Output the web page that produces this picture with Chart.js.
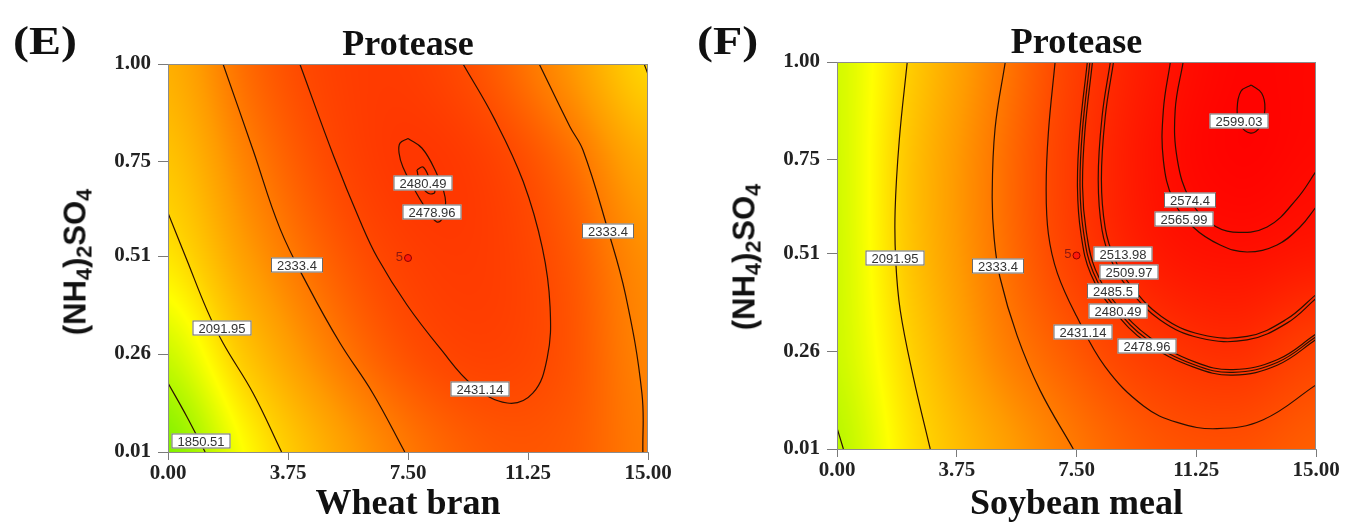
<!DOCTYPE html>
<html>
<head>
<meta charset="utf-8">
<script src="https://cdn.jsdelivr.net/npm/chart.js@4.4.1/dist/chart.umd.min.js"></script>
<style>
    body { margin: 0; background: #fff; width: 1346px; height: 523px; overflow: hidden; position: relative; }
    canvas { position: absolute; top: 0; }
    .tag { position: absolute; font: bold 40px "Liberation Serif", serif; color: #111; line-height: 1;
           transform: scaleX(1.2); transform-origin: left top; }
    .ytitle { position: absolute; font: bold 31px "Liberation Sans", Arial, sans-serif; color: #111; white-space: nowrap;
              line-height: 1; transform: translate(-50%, -50%) rotate(-90deg); }
    .ytitle sub { font-size: 70%; vertical-align: -0.28em; line-height: 0; }
</style>
</head>
<body>
<canvas id="chartE" width="700" height="523" style="left:0"></canvas>
<canvas id="chartF" width="673" height="523" style="left:673px"></canvas>
<div class="tag" style="left:13px;top:21px">(E)</div>
<div class="tag" style="left:697px;top:21px">(F)</div>
<div class="ytitle" style="left:75px;top:262px">(NH<sub>4</sub>)<sub>2</sub>SO<sub>4</sub></div>
<div class="ytitle" style="left:744px;top:257px">(NH<sub>4</sub>)<sub>2</sub>SO<sub>4</sub></div>
<script>
// axes
const xTicks = [0, 3.75, 7.5, 11.25, 15];
const yTicks = [0.01, 0.26, 0.51, 0.75, 1.00];

// response surface (rows = gridY, cols = gridX)
const gridX = [0, 2.5, 5, 7.5, 10, 12.5, 15];
const gridY = [0.01, 0.26, 0.51, 0.75, 1.00];
const eSurface = [
    [1719, 1993, 2198, 2334, 2401, 2398, 2326],
    [1879, 2131, 2311, 2418, 2453, 2415, 2305],
    [2042, 2247, 2386, 2459, 2466, 2406, 2280],
    [2127, 2315, 2432, 2480, 2457, 2365, 2203],
    [2190, 2366, 2453, 2466, 2403, 2266, 2075]
];
const fSurface = [
    [1840, 2060, 2220, 2337, 2405, 2420, 2390],
    [1880, 2105, 2300, 2405, 2475, 2500, 2455],
    [1885, 2145, 2335, 2465, 2545, 2565, 2550],
    [1888, 2150, 2340, 2477, 2562, 2593, 2580],
    [1892, 2120, 2318, 2465, 2550, 2590, 2585]
];

// colour scale (value -> rgb)
const colourValues = [1700, 1850, 1980, 2100, 2250, 2340, 2430, 2480, 2600];
const colourStops = [[120, 240, 0], [190, 248, 0], [255, 255, 0], [255, 205, 0], [255, 155, 0],
                     [255, 118, 0], [255, 75, 0], [255, 55, 0], [255, 0, 0]];

// (E) wheat bran contours
const eC1850 = [[0, 0.186], [0.59, 0.10], [1.16, 0.01]];
const eC2092 = [[0, 0.62], [0.59, 0.50], [1.22, 0.372], [1.72, 0.288], [2.66, 0.16], [3.55, 0.01]];
const eC2333a = [[1.72, 1.0], [2.66, 0.78], [3.5, 0.58], [4.4, 0.43], [5.375, 0.288], [6.4, 0.16], [7.4, 0.01]];
const eC2431 = [[4.12, 1.0], [5.2, 0.76], [6.0, 0.6], [6.55, 0.505], [7.47, 0.385], [8.5, 0.275], [9.53, 0.18], [10.6, 0.135],
                [11.4, 0.16], [11.85, 0.25], [11.94, 0.38], [11.7, 0.53], [11.1, 0.70], [10.2, 0.86], [9.22, 1.0]];
const eC2479 = [[7.5, 0.81], [7.94, 0.785], [8.34, 0.73], [8.66, 0.66], [8.6, 0.61], [8.4, 0.597], [8.03, 0.635], [7.66, 0.686],
                [7.34, 0.737], [7.22, 0.773], [7.25, 0.798], [7.5, 0.81]];
const eC2480 = [[7.78, 0.73], [7.97, 0.737], [8.19, 0.704], [8.34, 0.673], [8.13, 0.67], [7.88, 0.696], [7.78, 0.73]];
const eC2333b = [[11.6, 1.0], [12.56, 0.84], [12.97, 0.78], [13.72, 0.584], [14.3, 0.41], [14.81, 0.16], [14.84, 0.01]];
const eC2092b = [[14.88, 1.0], [15, 0.974]];

const eLabelText = ['1850.51', '2091.95', '2333.4', '2480.49', '2478.96', '2431.14', '2333.4'];
const eLabelX = [1.03, 1.69, 4.03, 7.97, 8.25, 9.75, 13.75];
const eLabelY = [0.038, 0.326, 0.487, 0.696, 0.622, 0.171, 0.574];

// (F) soybean meal contours
const fC1850 = [[0, 0.064], [0.2, 0.01]];
const fC2092 = [[2.2, 1.0], [1.95, 0.80], [1.82, 0.62], [1.84, 0.49], [1.98, 0.365], [2.39, 0.194], [2.92, 0.01]];
const fC2333 = [[5.27, 1.0], [4.95, 0.83], [4.86, 0.66], [4.92, 0.55], [5.1, 0.45], [5.64, 0.30], [6.36, 0.16], [7.4, 0.01]];
const fC2431 = [[6.83, 1.0], [6.62, 0.82], [6.55, 0.68], [6.62, 0.56], [6.9, 0.46], [7.5, 0.35], [8.4, 0.22], [9.6, 0.12],
                [10.65, 0.078], [11.9, 0.062], [13.35, 0.085], [15, 0.174]];
const fC2479 = [[7.84, 1.0], [7.6, 0.82], [7.53, 0.68], [7.64, 0.56], [7.95, 0.457], [8.65, 0.366], [9.71, 0.281], [11.15, 0.22],
                [12.4, 0.199], [13.8, 0.225], [15, 0.29]];
const fC2480 = [[7.92, 1.0], [7.68, 0.82], [7.61, 0.68], [7.72, 0.565], [8.02, 0.463], [8.71, 0.372], [9.75, 0.288], [11.17, 0.226],
                [12.4, 0.206], [13.8, 0.232], [15, 0.297]];
const fC2486 = [[8.0, 1.0], [7.76, 0.82], [7.69, 0.68], [7.8, 0.57], [8.09, 0.469], [8.77, 0.378], [9.8, 0.295], [11.2, 0.233],
                [12.4, 0.213], [13.8, 0.239], [15, 0.304]];
const fC2510 = [[8.56, 1.0], [8.3, 0.86], [8.18, 0.70], [8.3, 0.57], [8.6, 0.49], [9.09, 0.424], [10.12, 0.34], [11.37, 0.294],
                [12.84, 0.289], [14.09, 0.332], [15, 0.395]];
const fC2514 = [[8.66, 1.0], [8.4, 0.86], [8.28, 0.70], [8.4, 0.575], [8.69, 0.497], [9.16, 0.432], [10.16, 0.349], [11.4, 0.303],
                [12.84, 0.298], [14.06, 0.341], [15, 0.405]];
const fC2566 = [[10.44, 1.0], [10.22, 0.877], [10.22, 0.749], [10.53, 0.647], [11.15, 0.578], [12.0, 0.532], [12.84, 0.514],
                [13.78, 0.532], [14.5, 0.578], [15, 0.629]];
const fC2574 = [[10.84, 1.0], [10.59, 0.877], [10.66, 0.749], [11.06, 0.647], [11.69, 0.588], [12.4, 0.565], [13.47, 0.578],
                [14.4, 0.65], [15, 0.72]];
const fC2599 = [[12.97, 0.941], [13.3, 0.92], [13.4, 0.88], [13.25, 0.835], [12.95, 0.818], [12.62, 0.84], [12.53, 0.88],
                [12.65, 0.925], [12.97, 0.941]];

const fLabelText = ['2091.95', '2333.4', '2599.03', '2574.4', '2565.99', '2513.98', '2509.97', '2485.5', '2480.49', '2431.14', '2478.96'];
const fLabelX = [1.82, 5.05, 12.59, 11.06, 10.87, 8.96, 9.15, 8.63, 8.79, 7.69, 9.71];
const fLabelY = [0.498, 0.477, 0.849, 0.647, 0.598, 0.509, 0.463, 0.413, 0.362, 0.31, 0.273];

// design centre point
const centreX = 7.5;
const centreY = 0.505;
const centreRuns = '5';

function findCell(arr, v) {
    let i = 0;
    while (i < arr.length - 2 && v > arr[i + 1]) i++;
    return [i, (v - arr[i]) / (arr[i + 1] - arr[i])];
}

function catmull(p0, p1, p2, p3, t) {
    return p1 + 0.5 * t * (p2 - p0 + t * (2 * p0 - 5 * p1 + 4 * p2 - p3 + t * (3 * (p1 - p2) + p3 - p0)));
}

function sampleSurface(grid, xv, yv) {
    let [i, tx] = findCell(gridX, xv);
    let [j, ty] = findCell(gridY, yv);
    let clampX = k => Math.min(Math.max(k, 0), gridX.length - 1);
    let clampY = k => Math.min(Math.max(k, 0), gridY.length - 1);
    let row = r => {
        let g = grid[clampY(r)];
        return catmull(g[clampX(i - 1)], g[clampX(i)], g[clampX(i + 1)], g[clampX(i + 2)], tx);
    };
    return catmull(row(j - 1), row(j), row(j + 1), row(j + 2), ty);
}

function colourFor(v) {
    if (v <= colourValues[0]) return colourStops[0];
    let n = colourValues.length;
    if (v >= colourValues[n - 1]) return colourStops[n - 1];
    let k = 0;
    while (v > colourValues[k + 1]) k++;
    let t = (v - colourValues[k]) / (colourValues[k + 1] - colourValues[k]);
    let a = colourStops[k], b = colourStops[k + 1];
    return [a[0] + (b[0] - a[0]) * t, a[1] + (b[1] - a[1]) * t, a[2] + (b[2] - a[2]) * t];
}

function surfacePlugin(grid, labelText, labelX, labelY) {
    return {
        id: 'surface',
        beforeDatasetsDraw(chart) {
            let { ctx, chartArea: a, scales: { x, y } } = chart;
            let w = Math.round(a.right - a.left), h = Math.round(a.bottom - a.top);
            let off = document.createElement('canvas');
            off.width = w;
            off.height = h;
            let octx = off.getContext('2d');
            let img = octx.createImageData(w, h);
            for (let j = 0; j < h; j++) {
                let yv = y.getValueForPixel(a.top + j + 0.5);
                for (let i = 0; i < w; i++) {
                    let xv = x.getValueForPixel(a.left + i + 0.5);
                    let c = colourFor(sampleSurface(grid, xv, yv));
                    let k = (j * w + i) * 4;
                    img.data[k] = c[0];
                    img.data[k + 1] = c[1];
                    img.data[k + 2] = c[2];
                    img.data[k + 3] = 255;
                }
            }
            octx.putImageData(img, 0, 0);
            ctx.drawImage(off, a.left, a.top);
        },
        afterDatasetsDraw(chart) {
            let { ctx, scales: { x, y } } = chart;
            ctx.save();
            ctx.font = '13px "Liberation Sans", Arial, sans-serif';
            ctx.textAlign = 'center';
            ctx.textBaseline = 'middle';
            labelText.forEach((txt, i) => {
                let px = Math.round(x.getPixelForValue(labelX[i]));
                let py = Math.round(y.getPixelForValue(labelY[i]));
                let bw = Math.round(ctx.measureText(txt).width) + 12;
                let bh = 15;
                ctx.fillStyle = '#fff';
                ctx.fillRect(px - bw / 2, py - bh / 2, bw, bh);
                ctx.strokeStyle = '#6a6a6a';
                ctx.lineWidth = 1;
                ctx.strokeRect(px - bw / 2 + 0.5, py - bh / 2 + 0.5, bw - 1, bh - 1);
                ctx.fillStyle = '#333';
                ctx.fillText(txt, px, py + 1);
            });
            // run count next to the centre point
            ctx.fillStyle = '#8a1a10';
            ctx.textAlign = 'right';
            ctx.fillText(centreRuns, x.getPixelForValue(centreX) - 5, y.getPixelForValue(centreY) - 1);
            ctx.restore();
        },
        afterDraw(chart) {
            let { ctx, chartArea: a } = chart;
            ctx.save();
            ctx.strokeStyle = '#8c8c8c';
            ctx.lineWidth = 1;
            ctx.strokeRect(Math.round(a.left) + 0.5, Math.round(a.top) + 0.5, Math.round(a.right - a.left) - 1, Math.round(a.bottom - a.top));
            ctx.restore();
        }
    };
}

function contourSet(lines) {
    return lines.map(pts => ({
        type: 'line',
        data: pts.map(p => ({ x: p[0], y: p[1] })),
        showLine: true,
        borderColor: '#2a1000',
        borderWidth: 1.2,
        pointRadius: 0,
        tension: 0.4,
        fill: false
    }));
}

function makeChart(id, title, xTitle, lines, grid, labelText, labelX, labelY, box) {
    let tickFont = { family: '"Liberation Serif", "Times New Roman", serif', weight: 'bold', size: 21 };
    let bigFont = { family: '"Liberation Serif", "Times New Roman", serif', weight: 'bold', size: 36, lineHeight: 1 };
    let datasets = contourSet(lines);
    datasets.push({
        data: [{ x: centreX, y: centreY }],
        pointRadius: 3.5,
        pointBackgroundColor: '#ff1a0a',
        pointBorderColor: '#8b0000',
        pointBorderWidth: 1
    });
    return new Chart(document.getElementById(id), {
        type: 'scatter',
        data: { datasets: datasets },
        options: {
            responsive: false,
            animation: false,
            events: [],
            layout: { padding: { left: 0, right: box.right, top: 0, bottom: 0 } },
            plugins: {
                legend: { display: false },
                tooltip: { enabled: false },
                title: {
                    display: true,
                    text: title,
                    fullSize: false,
                    color: '#111',
                    font: bigFont,
                    padding: { top: box.titleTop, bottom: 0 }
                }
            },
            scales: {
                x: {
                    type: 'linear',
                    min: 0,
                    max: 15,
                    afterBuildTicks: s => { s.ticks = xTicks.map(v => ({ value: v })); },
                    afterFit: s => { s.height = box.xHeight; },
                    ticks: { callback: v => Number(v).toFixed(2), font: tickFont, color: '#222', padding: 1, maxRotation: 0, autoSkip: false },
                    grid: { drawOnChartArea: false, drawTicks: true, tickLength: 8, color: '#7a7a7a' },
                    border: { display: true, color: '#8c8c8c' },
                    title: { display: true, text: xTitle, color: '#111', font: bigFont, padding: 0 }
                },
                y: {
                    type: 'linear',
                    min: 0.01,
                    max: 1.0,
                    afterBuildTicks: s => { s.ticks = yTicks.map(v => ({ value: v })); },
                    afterFit: s => { s.width = box.yWidth; },
                    ticks: { callback: v => Number(v).toFixed(2), font: tickFont, color: '#222', padding: 7, autoSkip: false },
                    grid: { drawOnChartArea: false, drawTicks: true, tickLength: 10, color: '#7a7a7a' },
                    border: { display: true, color: '#8c8c8c' }
                }
            }
        },
        plugins: [surfacePlugin(grid, labelText, labelX, labelY)]
    });
}

makeChart('chartE', 'Protease', 'Wheat bran',
    [eC1850, eC2092, eC2333a, eC2431, eC2479, eC2480, eC2333b, eC2092b],
    eSurface, eLabelText, eLabelX, eLabelY,
    { right: 52, titleTop: 28, xHeight: 71, yWidth: 168 });

makeChart('chartF', 'Protease', 'Soybean meal',
    [fC1850, fC2092, fC2333, fC2431, fC2479, fC2480, fC2486, fC2510, fC2514, fC2566, fC2574, fC2599],
    fSurface, fLabelText, fLabelX, fLabelY,
    { right: 30, titleTop: 26, xHeight: 74, yWidth: 164 });
</script>
</body>
</html>
